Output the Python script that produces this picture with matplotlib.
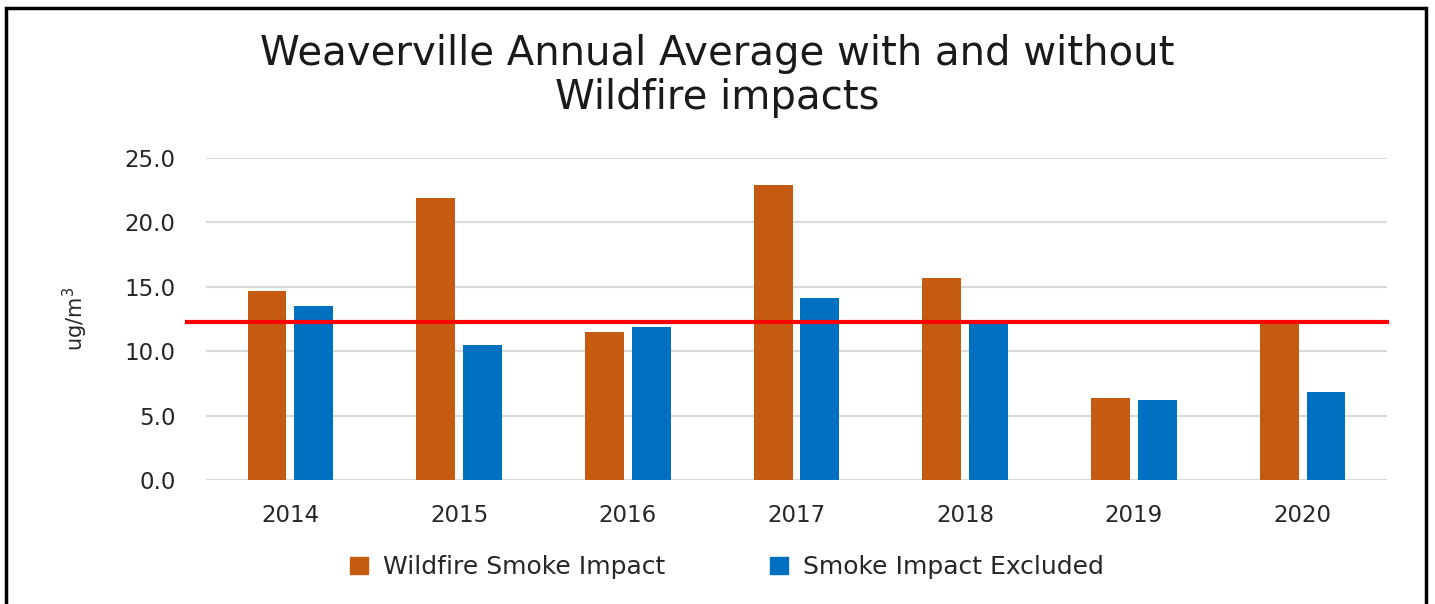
import matplotlib
matplotlib.use("Agg")
import matplotlib.pyplot as plt
from matplotlib.patches import Rectangle, Patch
import numpy as np

years = ["2014", "2015", "2016", "2017", "2018", "2019", "2020"]
wildfire = [14.7, 21.9, 11.5, 22.9, 15.7, 6.4, 12.3]
excluded = [13.5, 10.5, 11.85, 14.1, 12.3, 6.2, 6.8]
standard = 12.3

orange = "#C55A11"
blue = "#0070C0"

plt.rcParams['font.family'] = ['DejaVu Sans']

fig = plt.figure(figsize=(14.35, 6.04), dpi=100)
ax = fig.add_axes([206 / 1435, 124 / 604, 1181 / 1435, 322 / 604])

x = np.arange(len(years))
w = 0.23
gap = 0.047
off = (w + gap) / 2
ax.bar(x - off, wildfire, w, color=orange, zorder=2)
ax.bar(x + off, excluded, w, color=blue, zorder=2)

# red reference line, sticks out a bit to the left like the original
ax.plot([-0.61, 6.5], [standard, standard], color="#FF0000", lw=3, zorder=3, clip_on=False)

ax.set_xlim(-0.5, 6.5)
ax.set_ylim(0, 25)
ax.set_yticks(np.arange(0, 25.1, 5))
ax.set_yticklabels([f"{v:.1f}" for v in np.arange(0, 25.1, 5)])
ax.set_xticks(x)
ax.set_xticklabels(years)
ax.yaxis.grid(True, color="#d9d9d9", lw=1.5, zorder=0)
ax.set_axisbelow(True)
for s in ax.spines.values():
    s.set_visible(False)
ax.tick_params(length=0, labelsize=16.5, colors="#404040", labelcolor="#262626")
ax.tick_params(axis="y", pad=22)
ax.tick_params(axis="x", pad=17)

ax.set_ylabel("ug/m$^3$", fontsize=15, color="#262626", labelpad=2)
ax.yaxis.set_label_coords(-0.098, 0.50)

fig.text(0.5, 0.874, "Weaverville Annual Average with and without\nWildfire impacts",
         ha="center", va="center", fontsize=29, color="#1a1a1a", linespacing=1.12)

handles = [Patch(color=orange, label="Wildfire Smoke Impact"),
           Patch(color=blue, label="Smoke Impact Excluded")]
fig.legend(handles=handles, loc="center", bbox_to_anchor=(727 / 1435, 1 - 567 / 604),
           ncol=2, frameon=False, fontsize=18, handlelength=0.7, handleheight=0.7,
           handletextpad=0.6, columnspacing=4.2, labelcolor="#262626")

# black outer frame
fig.patches.append(Rectangle((6 / 1435, -0.05), 1420 / 1435, 1.05 - 8 / 604,
                             transform=fig.transFigure, fill=False,
                             edgecolor="black", lw=2.5))

fig.savefig("out.png", dpi=100)
